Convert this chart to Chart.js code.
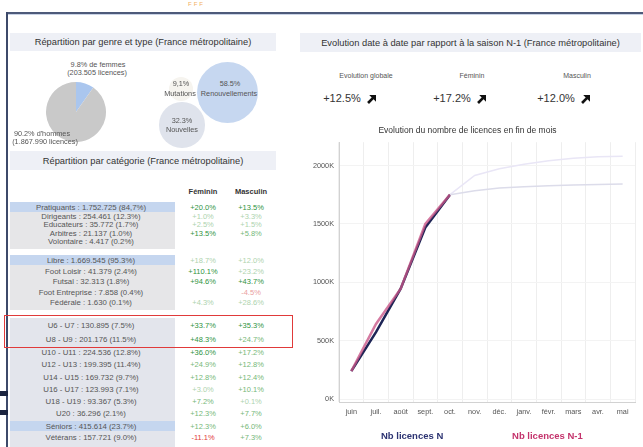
<!DOCTYPE html>
<html lang="fr">
<head>
<meta charset="utf-8">
<script src="https://cdn.jsdelivr.net/npm/chart.js@4.4.1/dist/chart.umd.min.js"></script>
<style>
  html,body{margin:0;padding:0;background:#fff;}
  body{width:643px;height:447px;overflow:hidden;position:relative;font-family:"Liberation Sans",Arial,sans-serif;color:#444;}
  .abs{position:absolute;}
  .c{position:absolute;transform:translate(-50%,-50%);white-space:nowrap;}
  .hdr{position:absolute;background:#eef0f6;color:#333;font-size:9.3px;display:flex;align-items:center;justify-content:center;white-space:nowrap;}
  .lab{font-size:7.8px;color:#555;}
  .val{font-size:7.5px;}
  .t2{color:#2f9440;} .t1{color:#76b878;} .t0{color:#aed3ae;}
  .r2{color:#e23a3a;} .r0{color:#eaa0a0;}
</style>
</head>
<body>
<script>
// ---------------- DATA ----------------
const months = ['juin','juil.','août','sept.','oct.','nov.','déc.','janv.','févr.','mars','avr.','mai'];
const licencesN  = [240, 575, 946, 1470, 1751, 1915, 1972, 2011, 2042, 2062, 2076, 2079];
const licencesN1 = [240, 644, 946, 1500, 1751, 1785, 1808, 1819, 1828, 1833, 1839, 1842];
const lastMonthIndex = 4; // oct. : dernier mois de la saison en cours
const seriesNames = ['Nb licences N', 'Nb licences N-1'];
const yTicksK = [0, 500, 1000, 1500, 2000];

const genreLabels = ['9.8%  de femmes', '90.2%  d\'hommes'];
const genreValues = [9.8, 90.2];
const genreCounts = ['(203.505 licences)', '(1.867.990 licences)'];

const typeLabels = ['Renouvellements', 'Nouvelles', 'Mutations'];
const typeValues = [58.5, 32.3, 9.1];

const kpiLabels = ['Evolution globale', 'Féminin', 'Masculin'];
const kpiValues = ['+12.5%', '+17.2%', '+12.0%'];

const catGroup1 = ['Pratiquants : 1.752.725 (84,7%)','Dirigeants : 254.461 (12.3%)','Educateurs : 35.772 (1.7%)','Arbitres : 21.137 (1.0%)','Volontaire : 4.417 (0.2%)'];
const femGroup1 = ['+20.0%','+1.0%','+2.5%','+13.5%',''];
const masGroup1 = ['+13.5%','+3.3%','+1.5%','+5.8%',''];

const catGroup2 = ['Libre : 1.669.545 (95.3%)','Foot Loisir : 41.379 (2.4%)','Futsal : 32.313 (1.8%)','Foot Entreprise : 7.858 (0.4%)','Fédérale : 1.630 (0.1%)'];
const femGroup2 = ['+18.7%','+110.1%','+94.6%','','+4.3%'];
const masGroup2 = ['+12.0%','+23.2%','+43.7%','-4.5%','+28.6%'];

const catGroup3 = ['U6 - U7 : 130.895 (7.5%)','U8 - U9 : 201.176 (11.5%)','U10 - U11 : 224.536 (12.8%)','U12 - U13 : 199.395 (11.4%)','U14 - U15 : 169.732 (9.7%)','U16 - U17 : 123.993 (7.1%)','U18 - U19 : 93.367 (5.3%)','U20 : 36.296 (2.1%)','Séniors : 415.614 (23.7%)','Vétérans : 157.721 (9.0%)'];
const femGroup3 = ['+33.7%','+48.3%','+36.0%','+24.9%','+12.8%','+3.0%','+7.2%','+12.3%','+12.3%','-11.1%'];
const masGroup3 = ['+35.3%','+24.7%','+17.2%','+12.8%','+12.4%','+10.1%','+0.1%','+7.7%','+6.0%','+7.3%'];
</script>

<!-- frame / decoration -->
<div class="abs" style="left:188px;top:1px;font-size:6px;color:#f2b160;letter-spacing:2px;">FFF</div>
<div class="abs" style="left:7px;top:12px;width:640px;height:2px;background:#4d5a7a;"></div>
<div class="abs" style="left:7px;top:14px;width:640px;height:1px;background:#c9d3e6;"></div>
<div class="abs" style="left:6px;top:12px;width:2px;height:440px;background:#3d4a6a;"></div>
<div class="abs" style="left:0px;top:391px;width:8px;height:5px;background:#1b2440;"></div>
<div class="abs" style="left:0px;top:410px;width:8px;height:5px;background:#1b2440;"></div>

<!-- headers -->
<div class="hdr" style="left:10px;top:33px;width:266px;height:18px;">Répartition par genre et type (France métropolitaine)</div>
<div class="hdr" style="left:10px;top:151px;width:266px;height:19px;">Répartition par catégorie (France métropolitaine)</div>
<div class="hdr" style="left:300px;top:33px;width:341px;height:19px;">Evolution date à date par rapport à la saison N-1 (France métropolitaine)</div>

<!-- pie -->
<div class="abs" style="left:46px;top:82px;width:60px;height:60px;"><canvas id="pie"></canvas></div>
<div id="pieLabels"></div>

<!-- bubbles -->
<div id="bubbles"></div>

<!-- table -->
<div id="table"></div>

<!-- KPIs -->
<div id="kpis"></div>

<!-- line chart -->
<div class="abs" style="left:300px;top:120px;width:343px;height:327px;"><canvas id="line"></canvas></div>

<script>
// ---------- pie labels ----------
(function(){
  const pl = document.getElementById('pieLabels');
  pl.innerHTML =
    `<div class="c lab" style="left:98px;top:64px;font-size:7.3px;">${genreLabels[0]}</div>
     <div class="c lab" style="left:97px;top:72px;font-size:7.3px;">${genreCounts[0]}</div>
     <div class="c lab" style="left:42px;top:133px;font-size:7.3px;">${genreLabels[1]}</div>
     <div class="c lab" style="left:45px;top:141px;font-size:7.3px;">${genreCounts[1]}</div>`;
})();

new Chart(document.getElementById('pie'), {
  type: 'pie',
  data: { labels: genreLabels, datasets: [{ data: genreValues, backgroundColor: ['#aac6ee', '#c9c9c9'], borderWidth: 0 }] },
  options: { responsive: true, maintainAspectRatio: false, animation: false,
    plugins: { legend: { display: false }, tooltip: { enabled: false } } }
});

// ---------- bubbles (area proportional to value) ----------
(function(){
  const b = document.getElementById('bubbles');
  const rBig = 30.5;
  const r = typeValues.map(v => rBig * Math.sqrt(v / typeValues[0]));
  const centers = [[227, 92], [182, 125], [181, 89]];
  const fills = ['#c6d7f0', '#dfe3ec', '#f6f4ef'];
  let html = '';
  [2,0,1].forEach(i => {
    html += `<div class="abs" style="left:${centers[i][0]-r[i]}px;top:${centers[i][1]-r[i]}px;width:${2*r[i]}px;height:${2*r[i]}px;border-radius:50%;background:${fills[i]};"></div>`;
  });
  html += `<div class="c lab" style="left:230px;top:83px;font-size:7.3px;">${typeValues[0].toFixed(1)}%</div>
           <div class="c lab" style="left:229px;top:93px;font-size:7.3px;">${typeLabels[0]}</div>
           <div class="c lab" style="left:182px;top:120px;font-size:7.3px;">${typeValues[1].toFixed(1)}%</div>
           <div class="c lab" style="left:182px;top:129px;font-size:7.3px;">${typeLabels[1]}</div>
           <div class="c lab" style="left:181px;top:83px;font-size:7.3px;">${String(typeValues[2].toFixed(1)).replace('.',',')}%</div>
           <div class="c lab" style="left:180px;top:93px;font-size:7.3px;">${typeLabels[2]}</div>`;
  b.innerHTML = html;
})();

// ---------- table ----------
(function(){
  const t = document.getElementById('table');
  const xLab = 91, xF = 203, xM = 251;
  let html = '';
  html += `<div class="c" style="left:${xF}px;top:191px;font-size:7.5px;font-weight:bold;color:#333;">Féminin</div>`;
  html += `<div class="c" style="left:${xM}px;top:191px;font-size:7.5px;font-weight:bold;color:#333;">Masculin</div>`;
  html += `<div class="abs" style="left:10px;top:202px;width:165px;height:47px;background:#e6e6e8;"></div>`;
  html += `<div class="abs" style="left:10px;top:255px;width:165px;height:55px;background:#e6e6e8;"></div>`;
  html += `<div class="abs" style="left:10px;top:318px;width:165px;height:130px;background:#e3e5ec;"></div>`;
  html += `<div class="abs" style="left:10px;top:202px;width:165px;height:10px;background:#c5d6ef;"></div>`;
  html += `<div class="abs" style="left:10px;top:255px;width:165px;height:10px;background:#c5d6ef;"></div>`;
  html += `<div class="abs" style="left:10px;top:421px;width:165px;height:10px;background:#c5d6ef;"></div>`;

  const tones1F = ['t2','t0','t0','t2',''], tones1M = ['t2','t0','t0','t1',''];
  const tones2F = ['t0','t2','t2','','t0'], tones2M = ['t0','t0','t2','r0','t0'];
  const tones3F = ['t2','t2','t2','t1','t1','t0','t1','t1','t1','r2'];
  const tones3M = ['t2','t1','t1','t1','t1','t1','t0','t1','t1','t1'];
  const ys1 = [207, 215.5, 224, 232.5, 241];
  const ys2 = [260, 270.5, 281, 291.5, 302];
  const ys3 = [325, 339, 351.5, 364, 376.5, 389, 400.5, 413, 425.5, 437];
  function rows(cats, fem, mas, ys, tf, tm){
    cats.forEach((c,i)=>{
      html += `<div class="c lab" style="left:${xLab}px;top:${ys[i]}px;">${c}</div>`;
      if (fem[i]) html += `<div class="c val ${tf[i]}" style="left:${xF}px;top:${ys[i]}px;">${fem[i]}</div>`;
      if (mas[i]) html += `<div class="c val ${tm[i]}" style="left:${xM}px;top:${ys[i]}px;">${mas[i]}</div>`;
    });
  }
  rows(catGroup1, femGroup1, masGroup1, ys1, tones1F, tones1M);
  rows(catGroup2, femGroup2, masGroup2, ys2, tones2F, tones2M);
  rows(catGroup3, femGroup3, masGroup3, ys3, tones3F, tones3M);
  html += `<div class="abs" style="left:4px;top:315px;width:287px;height:31px;border:1.5px solid #e03a3a;"></div>`;
  t.innerHTML = html;
})();

// ---------- KPIs ----------
(function(){
  const k = document.getElementById('kpis');
  const xs = [366, 472, 577];
  const vx = [342, 452, 556];
  const arrow = '<svg width="9" height="9" viewBox="0 0 10 10"><polygon points="10,0 10,7.5 7.3,4.8 2.2,9.9 0.1,7.8 5.2,2.7 2.5,0" fill="#111"/></svg>';
  let html = '';
  kpiLabels.forEach((l,i)=>{
    html += `<div class="c" style="left:${xs[i]}px;top:75px;font-size:7px;color:#555;">${l}</div>`;
    html += `<div class="c" style="left:${vx[i]}px;top:98px;font-size:11px;color:#333;">${kpiValues[i]}</div>`;
    html += `<div class="abs" style="left:${vx[i]+25}px;top:90px;width:9px;height:9px;">${arrow}</div>`;
  });
  k.innerHTML = html;
})();

// ---------- line chart ----------
const fontFam = '"Liberation Sans", Arial, sans-serif';
const fadedN = '#e9e6f6', fadedN1 = '#dcdcea';
const legendShift = {
  id: 'legendShift',
  afterLayout(chart){ const l = chart.legend; if (l){ l.left -= 17; l.right -= 17; l.top += 4; l.bottom += 4; } }
};
new Chart(document.getElementById('line'), {
  type: 'line',
  data: {
    labels: months,
    datasets: [
      { label: seriesNames[0], data: licencesN, borderColor: '#1e2556', borderWidth: 2.5, pointRadius: 0, tension: 0, order: 2,
        segment: { borderColor: ctx => ctx.p0DataIndex >= lastMonthIndex ? fadedN : undefined,
                   borderWidth: ctx => ctx.p0DataIndex >= lastMonthIndex ? 1.5 : undefined } },
      { label: seriesNames[1], data: licencesN1, borderColor: 'rgba(200,85,135,0.78)', borderWidth: 2.5, pointRadius: 0, tension: 0, order: 1,
        segment: { borderColor: ctx => ctx.p0DataIndex >= lastMonthIndex ? fadedN1 : undefined,
                   borderWidth: ctx => ctx.p0DataIndex >= lastMonthIndex ? 1.5 : undefined } }
    ]
  },
  options: {
    responsive: true, maintainAspectRatio: false, animation: false,
    layout: { padding: { left: 0, right: 8, top: 0, bottom: 0 } },
    scales: {
      x: {
        offset: true,
        grid: { offset: true, color: '#eeeeee', drawTicks: false },
        border: { color: '#d2d2d2' },
        ticks: { color: '#555', font: { family: fontFam, size: 7.3 }, padding: 5, maxRotation: 0, autoSkip: false }
      },
      y: {
        min: -30, max: 2200,
        afterBuildTicks: s => { s.ticks = yTicksK.map(v => ({ value: v })); },
        afterFit: s => { s.width = 39; },
        grid: { color: '#f3f3f3', drawTicks: false },
        border: { color: '#d2d2d2' },
        ticks: { color: '#555', font: { family: fontFam, size: 7.3 }, padding: 5, callback: v => v + 'K' }
      }
    },
    plugins: {
      tooltip: { enabled: false },
      title: { display: true, text: 'Evolution du nombre de licences en fin de mois', color: '#333',
               font: { family: fontFam, size: 8.5, weight: 'normal' }, padding: { top: 6, bottom: 6 } },
      legend: {
        position: 'bottom',
        labels: {
          boxWidth: 58, boxHeight: 0, padding: 6,
          font: { family: fontFam, size: 9.5, weight: 'bold' },
          sort: (a, b) => a.datasetIndex - b.datasetIndex,
          generateLabels: chart => chart.data.datasets.map((d, i) => ({
            text: d.label, datasetIndex: i, fillStyle: 'transparent', strokeStyle: 'transparent', lineWidth: 0,
            hidden: false, fontColor: i === 0 ? '#2c3372' : '#c4336c'
          }))
        }
      }
    }
  },
  plugins: [legendShift]
});
</script>
</body>
</html>
